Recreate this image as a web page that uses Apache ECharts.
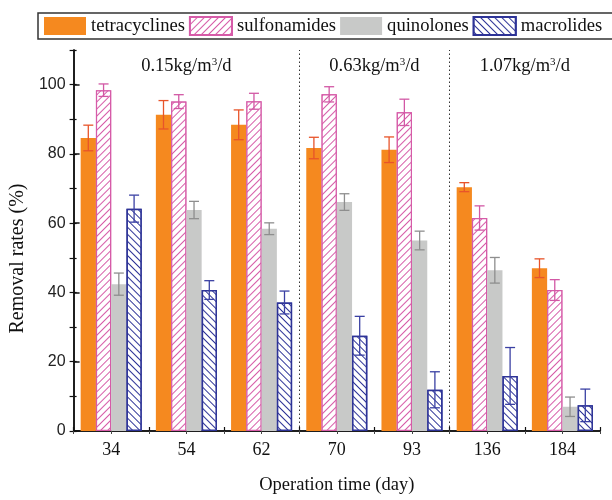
<!DOCTYPE html>
<html><head><meta charset="utf-8">
<script src="https://cdn.jsdelivr.net/npm/echarts@6/dist/echarts.min.js"></script>
<style>html,body{margin:0;padding:0;background:#fff}#c{width:612px;height:500px}</style>
</head><body><div id="c"></div>
<script>
const categories = ['34','54','62','70','93','136','184'];
const seriesNames = ['tetracyclines','sulfonamides','quinolones','macrolides'];
const tetracyclines    = [84.6, 91.3, 88.4, 81.7, 81.2, 70.4, 47.0];
const tetracyclinesErr = [3.7, 4.1, 4.3, 3.1, 3.7, 1.3, 2.7];
const sulfonamides     = [98.4, 95.1, 95.2, 97.2, 92.0, 61.5, 40.7];
const sulfonamidesErr  = [1.8, 2.0, 2.3, 2.2, 3.8, 3.5, 3.0];
const quinolones       = [42.4, 63.8, 58.4, 66.1, 55.0, 46.4, 7.0];
const quinolonesErr    = [3.2, 2.5, 1.7, 2.4, 2.7, 3.7, 2.8];
const macrolides       = [64.2, 40.7, 37.1, 27.5, 11.9, 15.9, 7.4];
const macrolidesErr    = [3.9, 2.7, 3.3, 5.6, 5.2, 8.2, 4.7];
const yMin = 0, yMax = 110, yStep = 20;
const loadingRates = ['0.15kg/m{s|3}/d', '0.63kg/m{s|3}/d', '1.07kg/m{s|3}/d'];
const loadingSpans = [[0, 3], [3, 5], [5, 7]];   // in category slots
const separators = [3, 5];

const SERIF = 'Liberation Serif';
const SANS = 'Liberation Sans';
const BAR_FRAC = 0.203;
const colors = {
  tetracyclines: '#f5891f', tetraErr: '#e8542a',
  sulfonamides: '#d65ba8', sulfErr: '#d258a5',
  quinolones: '#c8c9c8', quinErr: '#8e8e8e',
  macrolides: '#2d3397', macErr: '#3a40a3'
};

function errSeries(vals, errs, k, color) {
  return {
    type: 'custom', xAxisIndex: 0, yAxisIndex: 0, z: 5, silent: true,
    data: vals.map((v, i) => [i, v, errs[i]]),
    encode: { x: 0, y: 1 },
    renderItem(params, api) {
      const i = api.value(0), v = api.value(1), e = api.value(2);
      const band = api.size([1, 0])[0];
      const w = band * BAR_FRAC;
      const cx = api.coord([i, v])[0] + (k - 1.5) * w;
      const yt = api.coord([i, v + e])[1], yb = api.coord([i, v - e])[1];
      const cap = 5;
      const st = { stroke: color, lineWidth: 1.3 };
      return { type: 'group', children: [
        { type: 'line', shape: { x1: cx, y1: yt, x2: cx, y2: yb }, style: st },
        { type: 'line', shape: { x1: cx - cap, y1: yt, x2: cx + cap, y2: yt }, style: st },
        { type: 'line', shape: { x1: cx - cap, y1: yb, x2: cx + cap, y2: yb }, style: st }
      ]};
    }
  };
}

const chart = echarts.init(document.getElementById('c'), null, { renderer: 'canvas' });
const option = {
  animation: false,
  backgroundColor: '#fff',
  grid: { left: 73, right: 12, top: 50, bottom: 64, containLabel: false },
  legend: {
    data: seriesNames, left: 38, top: 13, width: 800, icon: 'rect',
    itemWidth: 42, itemHeight: 18, itemGap: 4, itemTextGap: 4,
    padding: [3, 30, 3, 6],
    borderColor: '#333', borderWidth: 1.5, borderRadius: 0,
    textStyle: { fontFamily: SERIF, fontSize: 18.6, color: '#111' },
    selectedMode: false
  },
  xAxis: [
    { type: 'category', data: categories, position: 'bottom',
      axisLine: { lineStyle: { color: '#111', width: 1.5 } },
      axisTick: { alignWithLabel: true, inside: true, length: 6, lineStyle: { color: '#111', width: 1.5 } },
      axisLabel: { fontFamily: SERIF, fontSize: 18, color: '#111', margin: 10 },
      name: 'Operation time (day)', nameLocation: 'middle', nameGap: 45,
      nameTextStyle: { fontFamily: SERIF, fontSize: 18.5, color: '#111' } },
    { type: 'value', min: 0, max: categories.length, interval: 1, position: 'bottom',
      axisLine: { show: false }, axisLabel: { show: false }, splitLine: { show: false },
      axisTick: { inside: true, length: 4, lineStyle: { color: '#111', width: 1.2 } } },
    { type: 'value', min: 0, max: categories.length * 2, interval: 1, position: 'top',
      axisLine: { show: true, lineStyle: { color: '#111', width: 1.5 } }, axisLabel: { show: false }, splitLine: { show: false },
      axisTick: { inside: true, length: 3, lineStyle: { color: '#444', width: 1 } } }
  ],
  yAxis: [
    { type: 'value', min: yMin, max: yMax, interval: yStep, position: 'left',
      axisLine: { show: true, lineStyle: { color: '#111', width: 1.5 } },
      axisTick: { show: true, inside: true, length: 6, lineStyle: { color: '#111', width: 1.5 } },
      axisLabel: { fontFamily: SANS, fontSize: 16, color: '#222', margin: 8, showMaxLabel: false },
      splitLine: { show: false },
      name: 'Removal rates (%)', nameLocation: 'middle', nameGap: 38,
      nameTextStyle: { fontFamily: SERIF, fontSize: 20, color: '#111', padding: [0, 36, 0, 0] } },
    { type: 'value', min: yMin, max: yMax, interval: yStep / 2, position: 'right',
      axisLine: { show: true, lineStyle: { color: '#111', width: 1.5 } },
      axisTick: { show: true, inside: true, length: 4, lineStyle: { color: '#111', width: 1.2 } },
      axisLabel: { show: false }, splitLine: { show: false } },
    { type: 'value', min: yMin, max: yMax, interval: yStep / 2, position: 'left',
      axisLine: { show: false },
      axisTick: { show: true, inside: true, length: 3, lineStyle: { color: '#111', width: 1.2 } },
      axisLabel: { show: false }, splitLine: { show: false } }
  ],
  series: [
    { name: 'tetracyclines', type: 'bar', data: tetracyclines, barWidth: (BAR_FRAC * 100) + '%', barGap: '0%',
      itemStyle: { color: colors.tetracyclines } },
    { name: 'sulfonamides', type: 'bar', data: sulfonamides, barWidth: (BAR_FRAC * 100) + '%', barGap: '0%',
      itemStyle: { color: '#fff', borderColor: colors.sulfonamides, borderWidth: 1.2,
        decal: { symbol: 'rect', symbolSize: 1, color: colors.sulfonamides, backgroundColor: '#fff',
          dashArrayX: [1, 0], dashArrayY: [0.9, 3.2], rotation: -Math.PI / 4 } } },
    { name: 'quinolones', type: 'bar', data: quinolones, barWidth: (BAR_FRAC * 100) + '%', barGap: '0%',
      itemStyle: { color: colors.quinolones } },
    { name: 'macrolides', type: 'bar', data: macrolides, barWidth: (BAR_FRAC * 100) + '%', barGap: '0%',
      itemStyle: { color: '#fff', borderColor: colors.macrolides, borderWidth: 1.5,
        decal: { symbol: 'rect', symbolSize: 1, color: colors.macrolides, backgroundColor: '#fff',
          dashArrayX: [1, 0], dashArrayY: [1, 4], rotation: Math.PI / 4 } } },
    errSeries(tetracyclines, tetracyclinesErr, 0, colors.tetraErr),
    errSeries(sulfonamides, sulfonamidesErr, 1, colors.sulfErr),
    errSeries(quinolones, quinolonesErr, 2, colors.quinErr),
    errSeries(macrolides, macrolidesErr, 3, colors.macErr),
    { type: 'line', xAxisIndex: 1, yAxisIndex: 0, data: [], silent: true,
      markLine: { silent: true, symbol: ['none', 'none'], label: { show: false },
        lineStyle: { type: [1.5, 2.5], color: '#333', width: 1 },
        data: separators.map(s => ({ xAxis: s })) },
      markArea: { silent: true, itemStyle: { color: 'rgba(0,0,0,0)' },
        label: { show: true, position: 'insideTop', distance: 7,
          fontFamily: SERIF, fontSize: 18.5, color: '#111',
          rich: { s: { fontFamily: SERIF, fontSize: 11, color: '#111', verticalAlign: 'top', padding: [0, 0, 8, 0] } } },
        data: loadingSpans.map((sp, i) => [{ xAxis: sp[0], name: loadingRates[i] }, { xAxis: sp[1] }]) } }
  ]
};
chart.setOption(option);
</script></body></html>
